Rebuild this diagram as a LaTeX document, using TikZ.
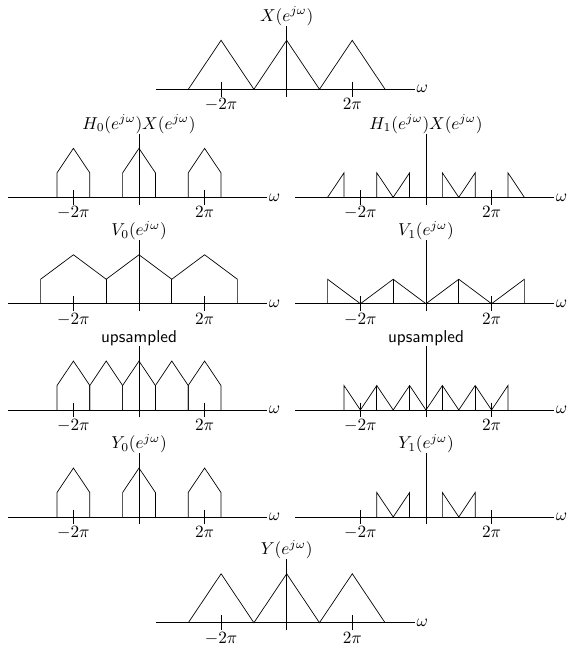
\documentclass[tikz,border=0pt]{standalone}
\begin{document}
\begin{tikzpicture}[x=0.67cm, y=1cm]
    \useasboundingbox (0,0) rectangle (11.686cm,-13.198cm);
    \def\tickLen{0.15}
    \def\spectrum#1#2{
        \draw (-4,0) -- (3.9,0) node[right, inner sep=1pt] (#2-w) {$\omega$};
        \draw (0,-\tickLen) -- (0,1.3) node[above, inner sep=0pt] (#2-label) {#1};
        \foreach \t/\l in {-2/-2\pi, 2/2\pi}
            \draw (\t,\tickLen) -- (\t,-\tickLen) node[anchor=north, inner sep=1pt] (#2-tick\t) {$\l$};
    }

    \begin{scope}[shift={(5.857cm,-1.824cm)}]
        \spectrum{$X(e^{j\omega})$}{X}
        \draw (-3,0) -- (-2,1) -- (-1,0) -- (0,1) -- (1,0) -- (2,1) -- (3,0);
    \end{scope}

    \begin{scope}[shift={(2.840cm,-4.031cm)}]
        \spectrum{$H_0(e^{j\omega})X(e^{j\omega})$}{HX0}
        \foreach \c in {-2,0,2}
            \draw (\c-0.5,0) -- (\c-0.5,0.5) -- (\c,1) -- (\c+0.5,0.5) -- (\c+0.5,0);
    \end{scope}
    \begin{scope}[shift={(8.703cm,-4.031cm)}]
        \spectrum{$H_1(e^{j\omega})X(e^{j\omega})$}{HX1}
        \draw (-3,0) -- (-2.5,0.5) -- (-2.5,0);
        \draw (-1.5,0) -- (-1.5,0.5) -- (-1,0) -- (-0.5,0.5) -- (-0.5,0);
        \draw (0.5,0) -- (0.5,0.5) -- (1,0) -- (1.5,0.5) -- (1.5,0);
        \draw (2.5,0) -- (2.5,0.5) -- (3,0);
    \end{scope}

    \begin{scope}[shift={(2.840cm,-6.205cm)}]
        \spectrum{$V_0(e^{j\omega})$}{V0}
        \draw (-3,0) -- (-3,0.5) -- (-2,1) -- (-1,0.5) -- (0,1) -- (1,0.5) -- (2,1) -- (3,0.5) -- (3,0);
        \foreach \c in {-1,1}
            \draw (\c,0) -- (\c,0.5);
    \end{scope}
    \begin{scope}[shift={(8.703cm,-6.205cm)}]
        \spectrum{$V_1(e^{j\omega})$}{V1}
        \draw (-3,0) -- (-3,0.5) -- (-2,0) -- (-1,0.5) -- (0,0) -- (1,0.5) -- (2,0) -- (3,0.5) -- (3,0);
        \foreach \c in {-1,1}
            \draw (\c,0) -- (\c,0.5);
    \end{scope}

    \begin{scope}[shift={(2.840cm,-8.376cm)}]
        \spectrum{\textsf{upsampled}}{U0}
        \foreach \c in {-2,...,2}
            \draw (\c-0.5,0) -- (\c-0.5,0.5) -- (\c,1) -- (\c+0.5,0.5) -- (\c+0.5,0);
    \end{scope}
    \begin{scope}[shift={(8.703cm,-8.376cm)}]
        \spectrum{\textsf{upsampled}}{U1}
        \draw (-2.5,0) -- (-2.5,0.5) -- (-2,0) -- (-1.5,0.5) -- (-1,0) -- (-0.5,0.5) -- (0,0)
            -- (0.5,0.5) -- (1,0) -- (1.5,0.5) -- (2,0) -- (2.5,0.5) -- (2.5,0);
        \foreach \c in {-1.5,-0.5,0.5,1.5}
            \draw (\c,0) -- (\c,0.5);
    \end{scope}

    \begin{scope}[shift={(2.840cm,-10.562cm)}]
        \spectrum{$Y_0(e^{j\omega})$}{Y0}
        \foreach \c in {-2,0,2}
            \draw (\c-0.5,0) -- (\c-0.5,0.5) -- (\c,1) -- (\c+0.5,0.5) -- (\c+0.5,0);
    \end{scope}
    \begin{scope}[shift={(8.703cm,-10.562cm)}]
        \spectrum{$Y_1(e^{j\omega})$}{Y1}
        \draw (-1.5,0) -- (-1.5,0.5) -- (-1,0) -- (-0.5,0.5) -- (-0.5,0);
        \draw (0.5,0) -- (0.5,0.5) -- (1,0) -- (1.5,0.5) -- (1.5,0);
    \end{scope}

    \begin{scope}[shift={(5.857cm,-12.722cm)}]
        \spectrum{$Y(e^{j\omega})$}{Y}
        \draw (-3,0) -- (-2,1) -- (-1,0) -- (0,1) -- (1,0) -- (2,1) -- (3,0);
    \end{scope}
\end{tikzpicture}
\end{document}
